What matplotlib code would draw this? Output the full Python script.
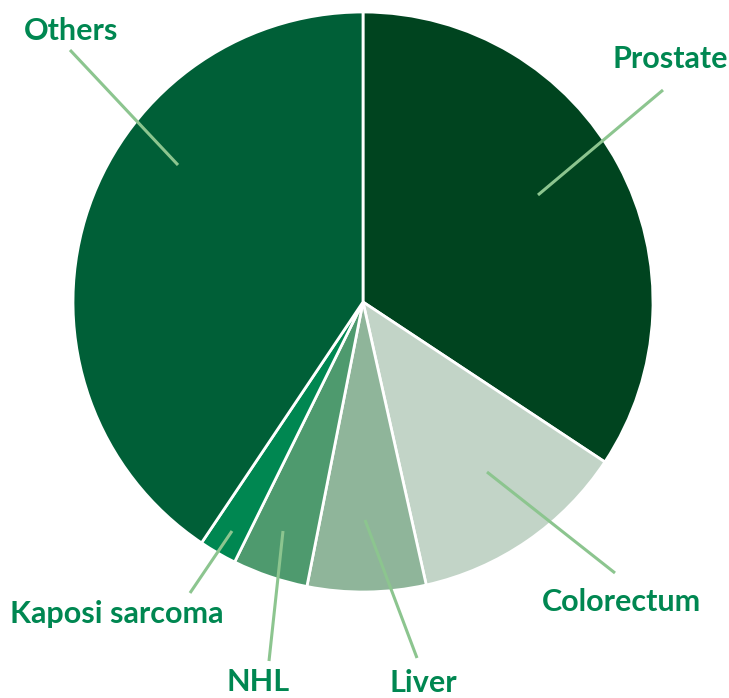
import matplotlib.pyplot as plt

# share of cases (%)
sites = ["Prostate", "Colorectum", "Liver", "NHL", "Kaposi sarcoma", "Others"]
shares = [34.3, 12.2, 6.6, 4.2, 2.1, 40.6]
colors = ["#00441f", "#c2d4c7", "#8fb59a", "#4e9a6e", "#008751", "#005f37"]

W, H = 729, 698

# label layout in pixel coords (x, y from top): text pos, line start (inside slice), line end
label_layout = {
    "Prostate":       dict(text=(613, 59), p0=(538, 195), p1=(663, 90)),
    "Colorectum":     dict(text=(542, 602), p0=(487, 472), p1=(615, 573)),
    "Liver":          dict(text=(390, 683), p0=(365, 520), p1=(417, 658)),
    "NHL":            dict(text=(227, 682), p0=(283, 531), p1=(269, 661)),
    "Kaposi sarcoma": dict(text=(10, 614), p0=(232, 531), p1=(190, 593)),
    "Others":         dict(text=(24, 31), p0=(178, 165), p1=(70, 50)),
}

fig = plt.figure(figsize=(W / 100, H / 100), dpi=100)
ax = fig.add_axes([0, 0, 1, 1])

cx, cy, r = 363, H - 302, 290
ax.pie(shares, colors=colors, startangle=90, counterclock=False,
       center=(cx, cy), radius=r, frame=True,
       wedgeprops=dict(edgecolor="white", linewidth=2))
ax.set_xlim(0, W)
ax.set_ylim(0, H)
ax.set_aspect("equal")
ax.axis("off")

for name in sites:
    lay = label_layout[name]
    (x0, y0), (x1, y1) = lay["p0"], lay["p1"]
    ax.plot([x0, x1], [H - y0, H - y1], color="#8cc58f", lw=2.2,
            solid_capstyle="butt", zorder=5)
    tx, ty = lay["text"]
    ax.text(tx, H - ty, name, ha="left", va="center", color="#008751",
            fontsize=22, fontweight="bold", family=["Lato", "DejaVu Sans"])

fig.savefig("out.png", dpi=100)
